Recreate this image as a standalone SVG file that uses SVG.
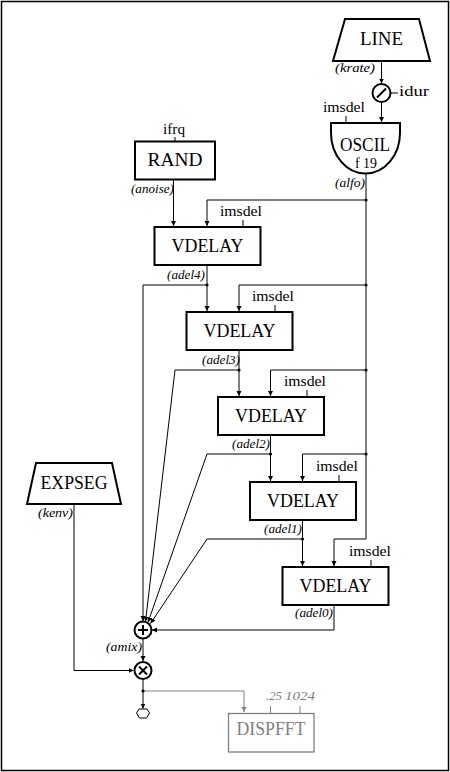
<svg xmlns="http://www.w3.org/2000/svg" width="450" height="772" viewBox="0 0 450 772">
<style>
.box{fill:#fff;stroke:#000;stroke-width:2}
.gbox{fill:#fff;stroke:#808080;stroke-width:1.3}
.big{font-family:"Liberation Serif",serif;font-size:19px;text-anchor:middle;fill:#000}
.sm{font-family:"Liberation Serif",serif;font-size:14px;fill:#000}
.lab{font-family:"Liberation Serif",serif;font-size:13.5px;font-style:italic;text-anchor:end;fill:#000}
.w{fill:none;stroke:#000;stroke-width:1}
.g{fill:none;stroke:#808080;stroke-width:1}
.dot{fill:#000}
</style>
<defs>
<marker id="ar" markerUnits="userSpaceOnUse" markerWidth="6" markerHeight="6" refX="5" refY="2.5" orient="auto">
<path d="M0,0 L5,2.5 L0,5 Z" fill="#000"/>
</marker>
<marker id="arg" markerUnits="userSpaceOnUse" markerWidth="6" markerHeight="6" refX="5" refY="2.5" orient="auto">
<path d="M0,0 L5,2.5 L0,5 Z" fill="#808080"/>
</marker>
</defs>
<rect x="1.5" y="1.5" width="447" height="769" fill="#fff" stroke="#000" stroke-width="1.5"/>

<g id="connectors">
<path class="w" d="M381.5,61 V83.5" marker-end="url(#ar)"/>
<path class="w" d="M390.5,93 H398"/>
<path class="w" d="M381.5,102 V122" marker-end="url(#ar)"/>
<path class="w" d="M346,116 V123"/>
<path class="w" d="M175,137 V141.5"/>
<path class="w" d="M366,174 V539 H334 V566" marker-end="url(#ar)"/>
<path class="w" d="M366,200 H207 V226" marker-end="url(#ar)"/>
<path class="w" d="M366,285 H239 V311" marker-end="url(#ar)"/>
<path class="w" d="M366,370 H270.5 V396" marker-end="url(#ar)"/>
<path class="w" d="M366,454 H302.5 V481" marker-end="url(#ar)"/>
<path class="w" d="M173.5,179.5 V226" marker-end="url(#ar)"/>
<path class="w" d="M207,265 V311" marker-end="url(#ar)"/>
<path class="w" d="M239,350 V396" marker-end="url(#ar)"/>
<path class="w" d="M270.5,435 V481" marker-end="url(#ar)"/>
<path class="w" d="M302.5,520 V566" marker-end="url(#ar)"/>
<path class="w" d="M207,285 H143 V621" marker-end="url(#ar)"/>
<path class="w" d="M239,370 H175 L145.5,621.5" marker-end="url(#ar)"/>
<path class="w" d="M270.5,454 H207 L148,622.3" marker-end="url(#ar)"/>
<path class="w" d="M302.5,539 H207 L150.5,623.5" marker-end="url(#ar)"/>
<path class="w" d="M334,605 V630 H152" marker-end="url(#ar)"/>
<path class="w" d="M143,639 V661" marker-end="url(#ar)"/>
<path class="w" d="M74,504 V670.5 H133.5" marker-end="url(#ar)"/>
<path class="w" d="M143,680 V708.5" marker-end="url(#ar)"/>
<path class="g" d="M143,691 H244 V712" marker-end="url(#arg)"/>
<path class="g" d="M270.5,706 V713 M300,706 V713"/>
<circle class="dot" cx="366" cy="200" r="1.6"/>
<circle class="dot" cx="366" cy="285" r="1.6"/>
<circle class="dot" cx="366" cy="370" r="1.6"/>
<circle class="dot" cx="366" cy="454" r="1.6"/>
<circle class="dot" cx="207" cy="285" r="1.6"/>
<circle class="dot" cx="239" cy="370" r="1.6"/>
<circle class="dot" cx="270.5" cy="454" r="1.6"/>
<circle class="dot" cx="302.5" cy="539" r="1.6"/>
<circle class="dot" cx="143" cy="691" r="1.6"/>
</g>

<g id="line">
<polygon class="box" points="345,19 419,19 430,61 333,61"/>
<text class="big" x="381.5" y="45" textLength="43" lengthAdjust="spacingAndGlyphs">LINE</text>
<text class="lab" x="375" y="72" textLength="40" lengthAdjust="spacingAndGlyphs">(krate)</text>
</g>

<g id="divide">
<circle cx="381.5" cy="93" r="9" fill="#fff" stroke="#000" stroke-width="2"/>
<path d="M377,97.5 L386,88.5" stroke="#000" stroke-width="2"/>
<text class="sm" x="399" y="96" textLength="30" lengthAdjust="spacingAndGlyphs">idur</text>
</g>

<g id="oscil">
<path class="box" d="M331,123 H400 V133 A34.5,40.5 0 0 1 331,133 Z"/>
<text class="big" x="365" y="151" textLength="50" lengthAdjust="spacingAndGlyphs">OSCIL</text>
<text class="sm" x="366" y="168" text-anchor="middle" textLength="22" lengthAdjust="spacingAndGlyphs">f 19</text>
<text class="sm" x="323" y="112" textLength="42" lengthAdjust="spacingAndGlyphs">imsdel</text>
<text class="lab" x="365" y="187" textLength="30" lengthAdjust="spacingAndGlyphs">(alfo)</text>
</g>

<g id="rand">
<rect class="box" x="135" y="141.5" width="80" height="38"/>
<text class="big" x="175" y="166" textLength="55" lengthAdjust="spacingAndGlyphs">RAND</text>
<text class="sm" x="174" y="134" text-anchor="middle" textLength="22" lengthAdjust="spacingAndGlyphs">ifrq</text>
<text class="lab" x="174" y="193" textLength="43" lengthAdjust="spacingAndGlyphs">(anoise)</text>
</g>

<g id="vdelay1">
<rect class="box" x="154.5" y="227" width="106" height="38"/>
<text class="big" x="207.5" y="252" textLength="72" lengthAdjust="spacingAndGlyphs">VDELAY</text>
<text class="sm" x="220" y="216" textLength="42" lengthAdjust="spacingAndGlyphs">imsdel</text>
<path class="w" d="M243,220 V227"/>
<text class="lab" x="205" y="279" textLength="38" lengthAdjust="spacingAndGlyphs">(adel4)</text>
</g>

<g id="vdelay2">
<rect class="box" x="186.5" y="312" width="106" height="38"/>
<text class="big" x="239.5" y="337" textLength="72" lengthAdjust="spacingAndGlyphs">VDELAY</text>
<text class="sm" x="252" y="301" textLength="42" lengthAdjust="spacingAndGlyphs">imsdel</text>
<path class="w" d="M275,305 V312"/>
<text class="lab" x="240" y="364" textLength="38" lengthAdjust="spacingAndGlyphs">(adel3)</text>
</g>

<g id="vdelay3">
<rect class="box" x="218" y="397" width="106" height="38"/>
<text class="big" x="271" y="422" textLength="72" lengthAdjust="spacingAndGlyphs">VDELAY</text>
<text class="sm" x="284" y="386" textLength="42" lengthAdjust="spacingAndGlyphs">imsdel</text>
<path class="w" d="M307,390 V397"/>
<text class="lab" x="270" y="448" textLength="38" lengthAdjust="spacingAndGlyphs">(adel2)</text>
</g>

<g id="vdelay4">
<rect class="box" x="250" y="482" width="106" height="38"/>
<text class="big" x="303" y="507" textLength="72" lengthAdjust="spacingAndGlyphs">VDELAY</text>
<text class="sm" x="316" y="471" textLength="42" lengthAdjust="spacingAndGlyphs">imsdel</text>
<path class="w" d="M339,475 V482"/>
<text class="lab" x="302" y="533" textLength="38" lengthAdjust="spacingAndGlyphs">(adel1)</text>
</g>

<g id="vdelay5">
<rect class="box" x="282.5" y="567" width="106" height="38"/>
<text class="big" x="335.5" y="592" textLength="72" lengthAdjust="spacingAndGlyphs">VDELAY</text>
<text class="sm" x="349" y="556" textLength="42" lengthAdjust="spacingAndGlyphs">imsdel</text>
<path class="w" d="M371,560 V567"/>
<text class="lab" x="333" y="617" textLength="38" lengthAdjust="spacingAndGlyphs">(adel0)</text>
</g>

<g id="expseg">
<polygon class="box" points="36,463 112,463 121,504 27,504"/>
<text class="big" x="74" y="489" textLength="67" lengthAdjust="spacingAndGlyphs">EXPSEG</text>
<text class="lab" x="73" y="517" textLength="35" lengthAdjust="spacingAndGlyphs">(kenv)</text>
</g>

<g id="sum">
<circle cx="143" cy="630" r="8.5" fill="#fff" stroke="#000" stroke-width="2"/>
<path d="M138,630 H148 M143,625 V635" stroke="#000" stroke-width="2"/>
<text class="lab" x="142" y="651" textLength="36" lengthAdjust="spacingAndGlyphs">(amix)</text>
</g>

<g id="mul">
<circle cx="143" cy="670.5" r="8.5" fill="#fff" stroke="#000" stroke-width="2"/>
<path d="M139,666.5 L147,674.5 M147,666.5 L139,674.5" stroke="#000" stroke-width="2"/>
</g>

<g id="out">
<path d="M139,709 L147,709 L149.5,713 L146.5,718 L139.5,718 L136.5,713 Z" fill="#fff" stroke="#000" stroke-width="1"/>
</g>

<g id="dispfft">
<rect class="gbox" x="228.5" y="713.5" width="85.5" height="38.5"/>
<text class="big" x="271" y="735" style="fill:#808080" textLength="69" lengthAdjust="spacingAndGlyphs">DISPFFT</text>
<text class="lab" x="282" y="700" style="fill:#808080" textLength="16" lengthAdjust="spacingAndGlyphs">.25</text>
<text class="lab" x="315" y="700" style="fill:#808080" textLength="30" lengthAdjust="spacingAndGlyphs">1024</text>
</g>
</svg>
